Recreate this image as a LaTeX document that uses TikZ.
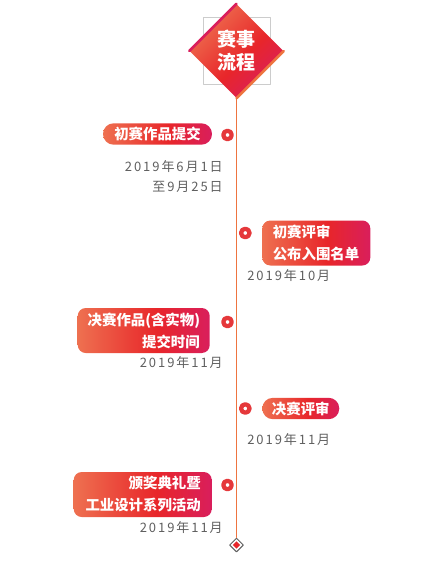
\documentclass[tikz,border=0pt]{standalone}
\usepackage{fontspec}
\usetikzlibrary{shapes.geometric}
\newfontfamily\cjk{Noto Sans CJK SC}
\newfontfamily\datefont[LetterSpace=15]{Noto Sans CJK SC}
\definecolor{lineorange}{HTML}{EE7440}
\definecolor{gradA}{HTML}{EE7050}
\definecolor{gradB}{HTML}{E8262A}
\definecolor{gradC}{HTML}{D91E5C}
\definecolor{dotred}{HTML}{E5383B}
\definecolor{dategray}{HTML}{5F5F5F}
\definecolor{boxgray}{HTML}{CCCCCC}
\pgfdeclarehorizontalshading{stagegrad}{100bp}{color(0bp)=(gradA); color(25bp)=(gradA);
  color(55bp)=(gradB); color(75bp)=(gradC); color(100bp)=(gradC)}

\begin{document}
\begin{tikzpicture}[x=0.75pt,y=-0.75pt,line cap=round,line join=round,
  stage/.style={shading=stagegrad,text=white,inner sep=0pt,
    font=\cjk\bfseries\fontsize{10.8}{16.5}\selectfont},
  pill/.style={stage,rounded corners=7.9pt,minimum height=16pt},
  card/.style={stage,rounded corners=6pt,minimum height=33.75pt},
  dot/.style={circle,draw=dotred,fill=white,line width=3.2pt,minimum size=6.4pt,inner sep=0pt},
  datetext/.style={text=dategray,inner sep=0pt,
    font=\datefont\fontsize{9.75}{15}\selectfont}]
  \useasboundingbox (0,0) rectangle (440,563);
  \draw[boxgray,line width=0.75pt] (203,17.5) rectangle (270,84.5);
  \node[diamond,aspect=1,minimum size=70.5pt,inner sep=0pt,shading=stagegrad,shading angle=-45,
    text=white,align=center,font=\cjk\bfseries\fontsize{14.25}{17.25}\selectfont]
    (title) at (236.5,51) {赛事\\流程};
  \draw[gradC,line width=2pt] (title.west) -- (title.north);
  \draw[lineorange,line width=2pt] (title.east) -- (title.south);
  \node[diamond,aspect=1,draw=dategray,fill=white,line width=0.75pt,minimum size=10.5pt,inner sep=0pt]
    (end) at (236.5,545) {};
  \node[diamond,aspect=1,fill=gradB,minimum size=5.5pt,inner sep=0pt] at (end.center) {};
  \draw[lineorange,line width=0.75pt] (title.south) -- (end.north);

  \foreach \x/\y/\n in {227.5/135/a,245.3/233/b,227.5/322/c,245.3/408.5/d,227.5/485/e} {
    \node[dot] (dot\n) at (\x,\y) {};
  }

  \node[pill,minimum width=81.75pt] (first) at (157.5,134) {初赛作品提交};
  \node[datetext,anchor=east,align=right] (firstdate) at (223,177) {2019年6月1日\\至9月25日};

  \node[card,anchor=west,text width=65.25pt,inner xsep=7.9pt,align=left] (review) at (262,243)
    {初赛评审\\公布入围名单};
  \node[datetext,anchor=west] (reviewdate) at (247,276) {2019年10月};

  \node[card,anchor=east,text width=84pt,inner xsep=7.5pt,align=right] (final) at (210,330.5)
    {决赛作品(含实物)\\提交时间};
  \node[datetext,anchor=east] (finaldate) at (223,363) {2019年11月};

  \node[pill,anchor=west,minimum width=57.75pt] (judge) at (262,408.5) {决赛评审};
  \node[datetext,anchor=west] (judgedate) at (247,440) {2019年11月};

  \node[card,anchor=east,text width=87pt,inner xsep=8.25pt,align=right] (award) at (212,494.5)
    {颁奖典礼暨\\工业设计系列活动};
  \node[datetext,anchor=east] (awarddate) at (223,528) {2019年11月};
\end{tikzpicture}
\end{document}
